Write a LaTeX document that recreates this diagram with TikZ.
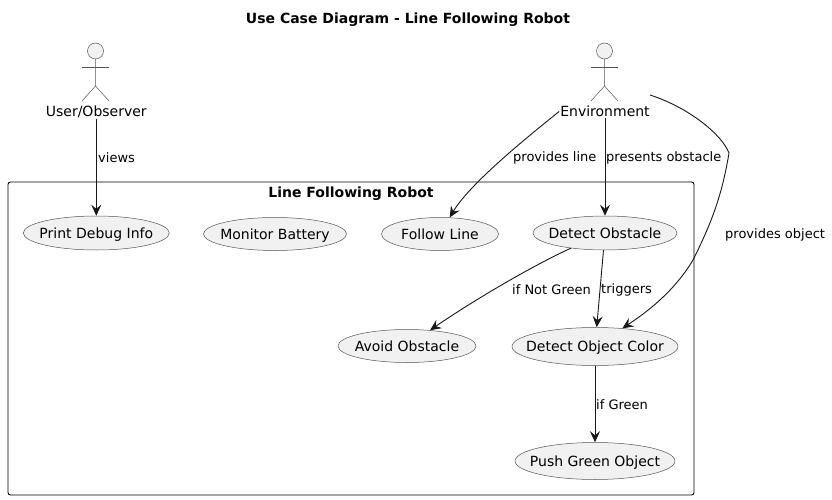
\documentclass[tikz,border=0pt]{standalone}
\usepackage{fontspec}
\setmainfont{DejaVu Sans}
\usetikzlibrary{arrows.meta,shapes.geometric}

\definecolor{ucfill}{HTML}{F1F1F1}
\definecolor{ucline}{HTML}{181818}
\definecolor{ucthin}{HTML}{555555}

\begin{document}
\begin{tikzpicture}[
    x=1pt, y=-1pt,
    usecase/.style={ellipse, draw=ucthin, fill=ucfill, line width=0.5pt, inner xsep=-22pt, inner ysep=0pt, font=\fontsize{14}{16}\selectfont, text depth=0pt},
    actorname/.style={inner sep=1pt, font=\fontsize{14}{16}\selectfont},
    edgelabel/.style={anchor=west, inner sep=0pt, font=\fontsize{13}{15}\selectfont},
    titletext/.style={inner sep=0pt, font=\fontsize{14}{16}\selectfont\bfseries},
    link/.style={draw=ucline, line width=0.9pt, -{Stealth[length=11pt, width=10pt, inset=4pt]}},
    pics/stickman/.style={code={
        \node[circle, draw=ucthin, fill=ucfill, line width=0.5pt, minimum size=16pt, inner sep=0pt] (-head) at (0,0) {};
        \draw[ucthin, line width=0.5pt] (-head) -- (0,35) -- (-13.5,50);
        \draw[ucthin, line width=0.5pt] (0,35) -- (13.5,50);
        \draw[ucthin, line width=0.5pt] (-13.5,16.5) -- (13.5,16.5);
    }}
]
    \useasboundingbox (0,0) rectangle (832,500);

    \node[titletext] (title) at (408,19.2) {Use Case Diagram - Line Following Robot};

    % system boundary
    \node[draw=black, line width=0.9pt, rounded corners=2.5pt, minimum width=686pt, minimum height=313pt, inner sep=0pt] (robot) at (351,338.5) {};
    \node[titletext] (robottitle) at (351,193.2) {Line Following Robot};

    % actors
    \pic (observer) at (95.5,51) {stickman};
    \pic (world) at (604.5,51) {stickman};
    \node[actorname] (user) at (96.3,111.5) {User/Observer};
    \node[actorname] (environment) at (605,111.5) {Environment};

    % use cases
    \node[usecase, minimum width=146pt, minimum height=34pt] (debug) at (96.3,233) {Print Debug Info};
    \node[usecase, minimum width=143pt, minimum height=33pt] (battery) at (275,234) {Monitor Battery};
    \node[usecase, minimum width=117pt, minimum height=33pt] (follow) at (440,234) {Follow Line};
    \node[usecase, minimum width=144pt, minimum height=34pt] (obstacle) at (605,233) {Detect Obstacle};
    \node[usecase, minimum width=138pt, minimum height=33pt] (avoid) at (407,346) {Avoid Obstacle};
    \node[usecase, minimum width=166pt, minimum height=38pt] (color) at (595,346.5) {Detect Object Color};
    \node[usecase, minimum width=160pt, minimum height=37pt] (push) at (595,461) {Push Green Object};

    \coordinate (worldside) at (650,95);
    \coordinate (objectbend) at (729,153);

    % connectors
    \draw[link] (user) -- (debug);
    \draw[link] (environment.west) .. controls (530,135) and (470,183) .. (follow);
    \draw[link] (environment) -- (obstacle);
    \draw[link] (worldside) .. controls (690,108) and (722,135) .. (objectbend) .. controls (722,195) and (712,222) .. (693,260) .. controls (675,290) and (650,310) .. (color);
    \draw[link] (obstacle) .. controls (540,262) and (480,296) .. (avoid);
    \draw[link] (obstacle) -- (color);
    \draw[link] (color) -- (push);

    % labels
    \node[edgelabel] (viewslabel) at (98,158) {views};
    \node[edgelabel] (linelabel) at (513,158) {provides line};
    \node[edgelabel] (presentslabel) at (606,158) {presents obstacle};
    \node[edgelabel] (objectlabel) at (725,234.7) {provides object};
    \node[edgelabel] (notgreenlabel) at (512,289.7) {if Not Green};
    \node[edgelabel] (triggerslabel) at (601,289.7) {triggers};
    \node[edgelabel] (greenlabel) at (596,404.7) {if Green};
\end{tikzpicture}
\end{document}
